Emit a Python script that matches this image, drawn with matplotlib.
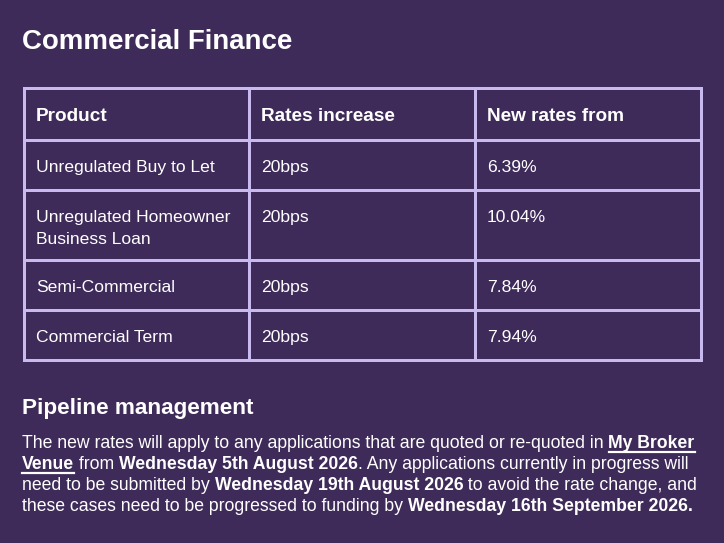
import matplotlib.pyplot as plt
from matplotlib.lines import Line2D
from matplotlib.patches import Rectangle

# =========================
# data
# =========================
title = "Commercial Finance"
columns = ["Product", "Rates increase", "New rates from"]
products = ["Unregulated Buy to Let", "Unregulated Homeowner\nBusiness Loan",
            "Semi-Commercial", "Commercial Term"]
increases = ["20bps", "20bps", "20bps", "20bps"]
new_rates = ["6.39%", "10.04%", "7.84%", "7.94%"]

subtitle = "Pipeline management"
# (text, bold, underline)
paragraph = [
    [("The new rates will apply to any applications that are quoted or re-quoted in ", False, False),
     ("My Broker", True, True)],
    [("Venue", True, True), (" from ", False, False), ("Wednesday 5th August 2026", True, False),
     (". Any applications currently in progress will", False, False)],
    [("need to be submitted by ", False, False), ("Wednesday 19th August 2026", True, False),
     (" to avoid the rate change, and", False, False)],
    [("these cases need to be progressed to funding by ", False, False),
     ("Wednesday 16th September 2026.", True, False)],
]

# =========================
# styling
# =========================
BG = "#3f2b5a"
LINE = "#c8b9ee"
FG = "white"
plt.rcParams['font.family'] = ['Liberation Sans', 'DejaVu Sans']

W, H = 724, 543
fig = plt.figure(figsize=(W / 100, H / 100), dpi=100, facecolor=BG)
ax = fig.add_axes([0, 0, 1, 1])
ax.set_xlim(0, W)
ax.set_ylim(H, 0)
ax.axis("off")

px = 0.72  # px -> pt at dpi 100

ax.text(22, 49, title, fontsize=27.6 * px, fontweight="bold", color=FG, va="baseline")

# table grid (3px borders)
col_x = [23, 248, 474, 700]
row_heights = [52, 50, 70, 50, 50]
row_y = [87]
for h in row_heights:
    row_y.append(row_y[-1] + h)

for x in col_x:
    ax.add_patch(Rectangle((x, row_y[0]), 3, row_y[-1] - row_y[0] + 3, color=LINE,
                           lw=0, antialiased=False))
for y in row_y:
    ax.add_patch(Rectangle((col_x[0], y), col_x[-1] - col_x[0] + 3, 3, color=LINE,
                           lw=0, antialiased=False))

pad_x = 13
# header
for i, c in enumerate(columns):
    ax.text(col_x[i] + pad_x, 121, c, fontsize=19 * px, fontweight="bold", color=FG,
            va="baseline")

rows = list(zip(products, increases, new_rates))
for r, vals in enumerate(rows):
    top = row_y[r + 1]
    for i, v in enumerate(vals):
        for k, line in enumerate(v.split("\n")):
            ax.text(col_x[i] + pad_x, top + 33 + k * 21.5, line, fontsize=17.5 * px,
                    color=FG, va="baseline")

ax.text(22, 414, subtitle, fontsize=22.5 * px, fontweight="bold", color=FG, va="baseline")

# paragraph with mixed runs
fig.canvas.draw()
renderer = fig.canvas.get_renderer()
inv = ax.transData.inverted()
size = 17.6 * px
base_y = 448
for li, runs in enumerate(paragraph):
    x = 22
    y = base_y + li * 20.9
    for text, bold, under in runs:
        t = ax.text(x, y, text, fontsize=size, color=FG, va="baseline",
                    fontweight="bold" if bold else "normal")
        bb = t.get_window_extent(renderer)
        x0 = inv.transform((bb.x0, bb.y0))[0]
        x1 = inv.transform((bb.x1, bb.y0))[0]
        if under:
            ax.add_line(Line2D([x0, x1], [y + 4, y + 4], color=FG, lw=2.2 * px))
        x = x1

fig.savefig("out.png", dpi=100, facecolor=BG)
